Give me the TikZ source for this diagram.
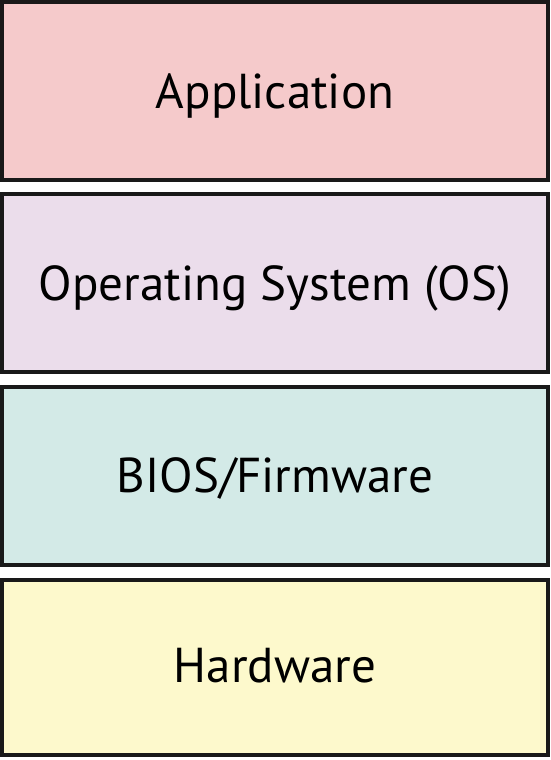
\documentclass[tikz,border=0pt]{standalone}
\usepackage{fontspec}
\setmainfont{PT Sans}
\definecolor{appc}{HTML}{F5CACB}
\definecolor{osc}{HTML}{EBDDEB}
\definecolor{biosc}{HTML}{D3EAE7}
\definecolor{hwc}{HTML}{FDF9CC}
\begin{document}
\begin{tikzpicture}[x=1pt,y=-1pt,
  layer/.style={draw=black!90,line width=4pt,minimum width=546pt,inner sep=0pt},
  lbl/.style={font=\fontsize{49}{52}\selectfont,inner sep=0pt}]
\useasboundingbox (0,0) rectangle (551,760);
\node[layer,fill=appc,minimum height=178pt] (app) at (275,91) {};
\node[layer,fill=osc,minimum height=178pt] (os) at (275,283) {};
\node[layer,fill=biosc,minimum height=178pt] (bios) at (275,476) {};
\node[layer,fill=hwc,minimum height=175pt] (hw) at (275,667.5) {};
\node[lbl,anchor=base] (tapp) at (275,108) {Application};
\node[lbl,anchor=base] (tos) at (275,300) {Operating System (OS)};
\node[lbl,anchor=base] (tbios) at (275,492) {BIOS/Firmware};
\node[lbl,anchor=base] (thw) at (275,682) {Hardware};
\end{tikzpicture}
\end{document}
